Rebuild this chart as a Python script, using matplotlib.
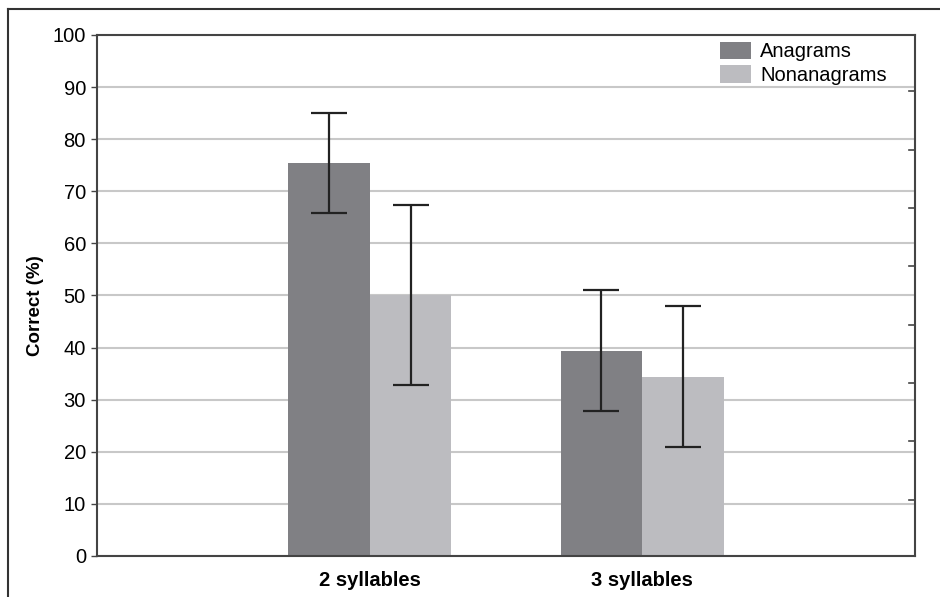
import matplotlib

matplotlib.use("Agg")
import matplotlib.pyplot as plt
from matplotlib.lines import Line2D
import numpy as np

plt.rcParams["font.family"] = ["Liberation Sans", "DejaVu Sans"]

categories = ["2 syllables", "3 syllables"]
series = ["Anagrams", "Nonanagrams"]
anagrams = [75.4, 39.3]
anagrams_lo = [65.9, 27.9]
anagrams_hi = [85.0, 51.1]
nonanagrams = [50.0, 34.4]
nonanagrams_lo = [32.8, 20.9]
nonanagrams_hi = [67.4, 48.0]
yticks = [0, 10, 20, 30, 40, 50, 60, 70, 80, 90, 100]
right_ticks = [10.8, 22.0, 33.2, 44.4, 55.6, 66.8, 78.0, 89.2]

colors = ["#808084", "#bcbcc0"]

fig = plt.figure(figsize=(9.4, 5.97), dpi=100)
ax = fig.add_axes([0.1032, 0.0687, 0.8702, 0.8727])

x = np.arange(len(categories))
w = 0.3
for vals, lo, hi, off, col, lab in (
    (anagrams, anagrams_lo, anagrams_hi, -w / 2, colors[0], series[0]),
    (nonanagrams, nonanagrams_lo, nonanagrams_hi, w / 2, colors[1], series[1]),
):
    v = np.array(vals)
    yerr = [v - np.array(lo), np.array(hi) - v]
    ax.bar(x + off, v, width=w, color=col, label=lab, zorder=2)
    ax.errorbar(x + off, v, yerr=yerr, fmt="none", ecolor="#222222",
                elinewidth=1.6, capsize=13, capthick=1.6, zorder=3)

ax.set_xlim(-1, 2)
ax.set_ylim(0, 100)
ax.set_yticks(yticks)
ax.set_xticks(x)
ax.set_xticklabels(categories, fontsize=14.5, fontweight="bold")
ax.tick_params(axis="x", length=0, pad=11)
ax.tick_params(axis="y", labelsize=14.5, length=4, width=1, color="#444444", pad=4)
ax.grid(axis="y", color="#c8c8c8", lw=1.5, zorder=1)
ax.set_axisbelow(True)
for s in ax.spines.values():
    s.set_color("#444444")
    s.set_linewidth(1.5)
ax.set_ylabel("Correct (%)", fontsize=13.5, fontweight="bold")
ax.yaxis.set_label_coords(-0.065, 0.48)

# small inward ticks on the right spine
for t in right_ticks:
    ax.plot([0.993, 1.0], [t, t], transform=ax.get_yaxis_transform(),
            color="#444444", lw=1.2, clip_on=False, zorder=4)

ax.legend(loc="upper right", frameon=False, fontsize=14.5, handlelength=1.55,
          handleheight=0.95, labelspacing=0.2, handletextpad=0.45,
          borderaxespad=0.2, bbox_to_anchor=(0.98, 1.01))

# outer frame (left and top edges)
fig.add_artist(Line2D([8 / 940, 8 / 940], [0, 1 - 9 / 597], transform=fig.transFigure,
                      color="#333333", lw=1.5))
fig.add_artist(Line2D([8 / 940, 1], [1 - 9 / 597, 1 - 9 / 597], transform=fig.transFigure,
                      color="#333333", lw=1.5))

fig.savefig("out.png", dpi=100)
